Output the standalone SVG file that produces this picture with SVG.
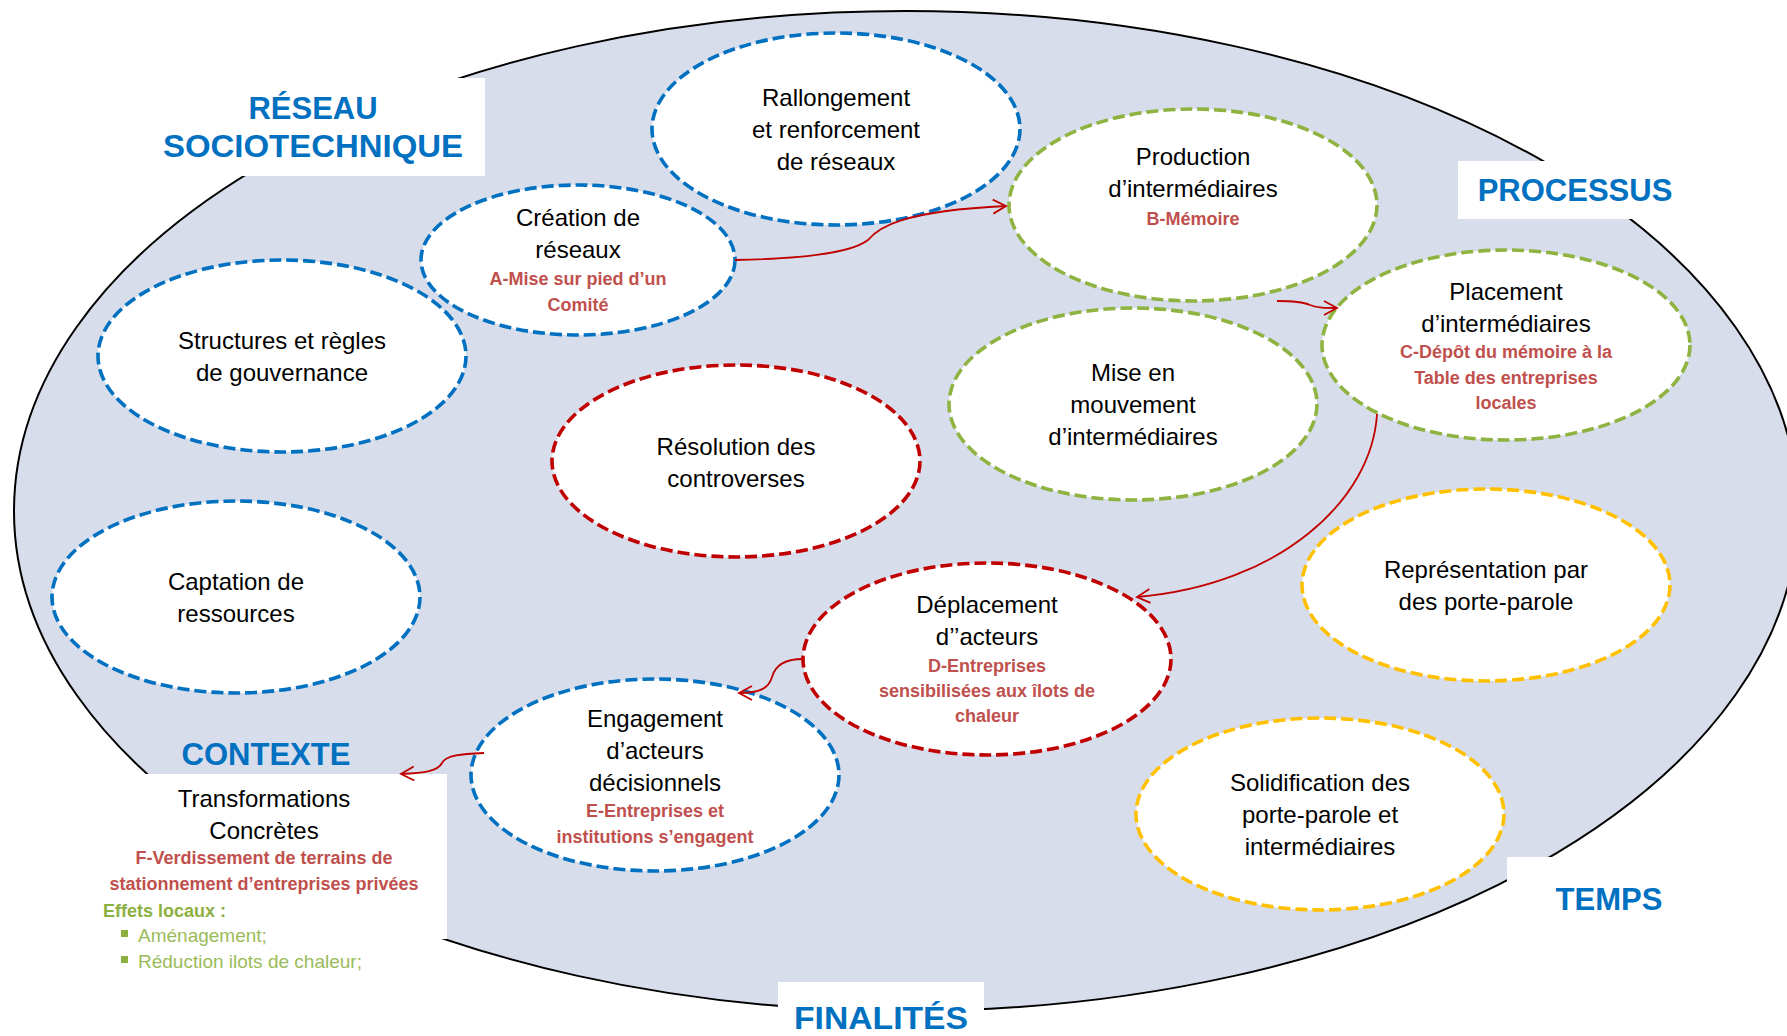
<svg xmlns="http://www.w3.org/2000/svg" width="1787" height="1036" viewBox="0 0 1787 1036">
<defs>
<style>
.node{fill:#fff;stroke-width:3.6;stroke-dasharray:12 5}
.blue{stroke:#0070C0}
.green{stroke:#8FB340}
.red{stroke:#C00000}
.yellow{stroke:#FFC000}
.t{font-family:"Liberation Sans",Arial,sans-serif;font-size:24px;fill:#000;text-anchor:middle}
.r{font-family:"Liberation Sans",Arial,sans-serif;font-size:18px;font-weight:bold;fill:#C0504D;text-anchor:middle}
.h{font-family:"Liberation Sans",Arial,sans-serif;font-size:31px;font-weight:bold;fill:#0070C0;text-anchor:middle}
.g{font-family:"Liberation Sans",Arial,sans-serif;font-size:19px;fill:#9BBB59}
.conn{fill:none;stroke:#C00000;stroke-width:1.8;marker-end:url(#arr)}
</style>
<marker id="arr" markerUnits="userSpaceOnUse" markerWidth="20" markerHeight="20" refX="14" refY="8" orient="auto" viewBox="0 0 20 16">
<path d="M1,1 L14,8 L1,15" fill="none" stroke="#C00000" stroke-width="1.8"/>
</marker>
</defs>
<rect width="1787" height="1036" fill="#fff"/>
<ellipse id="frame" cx="906" cy="511" rx="892" ry="500" fill="#D7DDEA" stroke="#000" stroke-width="2"/>

<g id="label-reseau">
<rect x="150" y="78" width="335" height="98" fill="#fff"/>
<text class="h" x="313" y="119">RÉSEAU</text>
<text class="h" x="313" y="157" textLength="300" lengthAdjust="spacingAndGlyphs">SOCIOTECHNIQUE</text>
</g>
<g id="label-processus">
<rect x="1458" y="161" width="232" height="58" fill="#fff"/>
<text class="h" x="1575" y="201">PROCESSUS</text>
</g>
<g id="label-temps">
<rect x="1507" y="857" width="280" height="179" fill="#fff"/>
<text class="h" x="1609" y="910">TEMPS</text>
</g>
<g id="label-finalites">
<rect x="778" y="982" width="206" height="54" fill="#fff"/>
<text class="h" x="881" y="1029" textLength="174" lengthAdjust="spacingAndGlyphs">FINALITÉS</text>
</g>
<g id="label-contexte">
<text class="h" x="266" y="765">CONTEXTE</text>
<rect x="100" y="774" width="347" height="165" fill="#fff"/>
<text class="t" x="264" y="807">Transformations</text>
<text class="t" x="264" y="839">Concrètes</text>
<text class="r" x="264" y="864">F-Verdissement de terrains de</text>
<text class="r" x="264" y="890">stationnement d’entreprises privées</text>
<text class="g" x="103" y="917" style="font-weight:bold;font-size:18px;fill:#8CB040">Effets locaux :</text>
<rect x="121" y="930" width="7" height="7" fill="#8CB040"/>
<text class="g" x="138" y="942">Aménagement;</text>
<rect x="121" y="956" width="7" height="7" fill="#8CB040"/>
<text class="g" x="138" y="968">Réduction ilots de chaleur;</text>
</g>

<g id="n-rallongement">
<ellipse class="node blue" cx="836" cy="129" rx="184" ry="96"/>
<text class="t" x="836" y="106">Rallongement</text>
<text class="t" x="836" y="138">et renforcement</text>
<text class="t" x="836" y="170">de réseaux</text>
</g>
<g id="n-creation">
<ellipse class="node blue" cx="578" cy="260" rx="157" ry="75"/>
<text class="t" x="578" y="226">Création de</text>
<text class="t" x="578" y="258">réseaux</text>
<text class="r" x="578" y="285">A-Mise sur pied d’un</text>
<text class="r" x="578" y="311">Comité</text>
</g>
<g id="n-structures">
<ellipse class="node blue" cx="282" cy="356" rx="184" ry="96"/>
<text class="t" x="282" y="349">Structures et règles</text>
<text class="t" x="282" y="381">de gouvernance</text>
</g>
<g id="n-production">
<ellipse class="node green" cx="1193" cy="205" rx="184" ry="96"/>
<text class="t" x="1193" y="165">Production</text>
<text class="t" x="1193" y="197">d’intermédiaires</text>
<text class="r" x="1193" y="225">B-Mémoire</text>
</g>
<g id="n-placement">
<ellipse class="node green" cx="1506" cy="345" rx="184" ry="95"/>
<text class="t" x="1506" y="300">Placement</text>
<text class="t" x="1506" y="332">d’intermédiaires</text>
<text class="r" x="1506" y="358">C-Dépôt du mémoire à la</text>
<text class="r" x="1506" y="384">Table des entreprises</text>
<text class="r" x="1506" y="409">locales</text>
</g>
<g id="n-mise">
<ellipse class="node green" cx="1133" cy="404" rx="184" ry="96"/>
<text class="t" x="1133" y="381">Mise en</text>
<text class="t" x="1133" y="413">mouvement</text>
<text class="t" x="1133" y="445">d’intermédiaires</text>
</g>
<g id="n-resolution">
<ellipse class="node red" cx="736" cy="461" rx="184" ry="96"/>
<text class="t" x="736" y="455">Résolution des</text>
<text class="t" x="736" y="487">controverses</text>
</g>
<g id="n-captation">
<ellipse class="node blue" cx="236" cy="597" rx="184" ry="96"/>
<text class="t" x="236" y="590">Captation de</text>
<text class="t" x="236" y="622">ressources</text>
</g>
<g id="n-representation">
<ellipse class="node yellow" cx="1486" cy="585" rx="184" ry="96"/>
<text class="t" x="1486" y="578">Représentation par</text>
<text class="t" x="1486" y="610">des porte-parole</text>
</g>
<g id="n-deplacement">
<ellipse class="node red" cx="987" cy="659" rx="184" ry="96"/>
<text class="t" x="987" y="613">Déplacement</text>
<text class="t" x="987" y="645">d’’acteurs</text>
<text class="r" x="987" y="672">D-Entreprises</text>
<text class="r" x="987" y="697">sensibilisées aux îlots de</text>
<text class="r" x="987" y="722">chaleur</text>
</g>
<g id="n-engagement">
<ellipse class="node blue" cx="655" cy="775" rx="184" ry="96"/>
<text class="t" x="655" y="727">Engagement</text>
<text class="t" x="655" y="759">d’acteurs</text>
<text class="t" x="655" y="791">décisionnels</text>
<text class="r" x="655" y="817">E-Entreprises et</text>
<text class="r" x="655" y="843">institutions s’engagent</text>
</g>
<g id="n-solidification">
<ellipse class="node yellow" cx="1320" cy="814" rx="184" ry="96"/>
<text class="t" x="1320" y="791">Solidification des</text>
<text class="t" x="1320" y="823">porte-parole et</text>
<text class="t" x="1320" y="855">intermédiaires</text>
</g>

<g id="connectors">
<path class="conn" d="M735,260 C790,259 850,254 868,240 C878,228 900,211 1006,206"/>
<path class="conn" d="M1277,301 C1295,301 1303,302 1310,305 C1318,308 1325,308 1337,308"/>
<path class="conn" d="M1377,414 C1372,500 1280,585 1137,597"/>
<path class="conn" d="M803,659 C785,659 775,666 772,677 C769,688 760,693 739,693"/>
<path class="conn" d="M484,753 C462,754 446,755 442,763 C438,771 425,773 401,774"/>
</g>
</svg>
